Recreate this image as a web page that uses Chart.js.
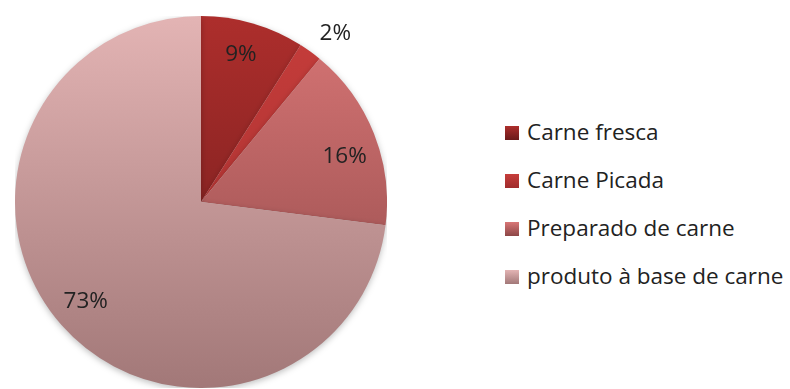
<!DOCTYPE html>
<html>
<head>
<meta charset="utf-8">
<script src="https://cdn.jsdelivr.net/npm/chart.js@4"></script>
<style>
  body { margin: 0; width: 790px; height: 389px; background: #fff; overflow: hidden; position: relative; font-family: "Open Sans", "Noto Sans", sans-serif; }
  #wrap { position: absolute; left: 15px; top: 16px; width: 372px; height: 372px; }
  #legend { position: absolute; left: 505px; top: 116px; list-style: none; margin: 0; padding: 0; }
  #legend li { height: 48px; font-size: 22.5px; color: #222; white-space: nowrap; line-height: 32px; }
  #legend span.box { display: inline-block; width: 14px; height: 14px; margin-right: 8px; vertical-align: 0px; }
</style>
</head>
<body>
<div id="wrap"><canvas id="pieChart"></canvas></div>
<ul id="legend"></ul>
<script>
const categories = ['Carne fresca', 'Carne Picada', 'Preparado de carne', 'produto à base de carne'];
const shares = [9, 2, 16, 73];
const topColors = ['#ad2e2c', '#c63d3b', '#d87676', '#e3b4b4'];
const bottomColors = ['#6a1a1a', '#a02c2c', '#8c4646', '#a27878'];

// label placement: distance as a fraction of the radius, small angle nudge in degrees
const labelDist = [0.82, 1.16, 0.81, 0.82];
const labelNudge = [-1, 2.5, 4, 0.5];

function sliceColor(context) {
    const chart = context.chart;
    const area = chart.chartArea;
    if (!area) return topColors[context.dataIndex];
    const g = chart.ctx.createLinearGradient(0, area.top, 0, area.bottom);
    g.addColorStop(0, topColors[context.dataIndex]);
    g.addColorStop(1, bottomColors[context.dataIndex]);
    return g;
}

const pieShadow = {
    id: 'pieShadow',
    beforeDatasetsDraw(chart) {
        const ctx = chart.ctx;
        ctx.save();
        ctx.shadowColor = 'rgba(0,0,0,0.25)';
        ctx.shadowBlur = 6;
        ctx.shadowOffsetY = 2;
    },
    afterDatasetsDraw(chart) {
        chart.ctx.restore();
    }
};

const percentLabels = {
    id: 'percentLabels',
    afterDraw(chart) {
        const ctx = chart.ctx;
        const meta = chart.getDatasetMeta(0);
        ctx.save();
        ctx.font = '22.5px "Open Sans", "Noto Sans", sans-serif';
        ctx.fillStyle = '#222';
        ctx.textAlign = 'center';
        ctx.textBaseline = 'middle';
        meta.data.forEach((arc, i) => {
            const p = arc.getProps(['x', 'y', 'startAngle', 'endAngle', 'outerRadius'], true);
            const mid = (p.startAngle + p.endAngle) / 2 + labelNudge[i] * Math.PI / 180;
            const r = p.outerRadius * labelDist[i];
            ctx.fillText(shares[i] + '%', p.x + Math.cos(mid) * r, p.y + Math.sin(mid) * r);
        });
        ctx.restore();
    }
};

new Chart(document.getElementById('pieChart'), {
    type: 'pie',
    data: {
        labels: categories,
        datasets: [{
            data: shares,
            backgroundColor: sliceColor,
            borderWidth: 0
        }]
    },
    options: {
        responsive: true,
        maintainAspectRatio: false,
        animation: false,
        layout: { padding: 0 },
        plugins: {
            legend: { display: false },
            tooltip: { enabled: false }
        }
    },
    plugins: [pieShadow, percentLabels]
});

const legend = document.getElementById('legend');
categories.forEach((name, i) => {
    const li = document.createElement('li');
    const box = document.createElement('span');
    box.className = 'box';
    box.style.background = `linear-gradient(${topColors[i]}, ${bottomColors[i]})`;
    li.appendChild(box);
    li.appendChild(document.createTextNode(name));
    legend.appendChild(li);
});
</script>
</body>
</html>
